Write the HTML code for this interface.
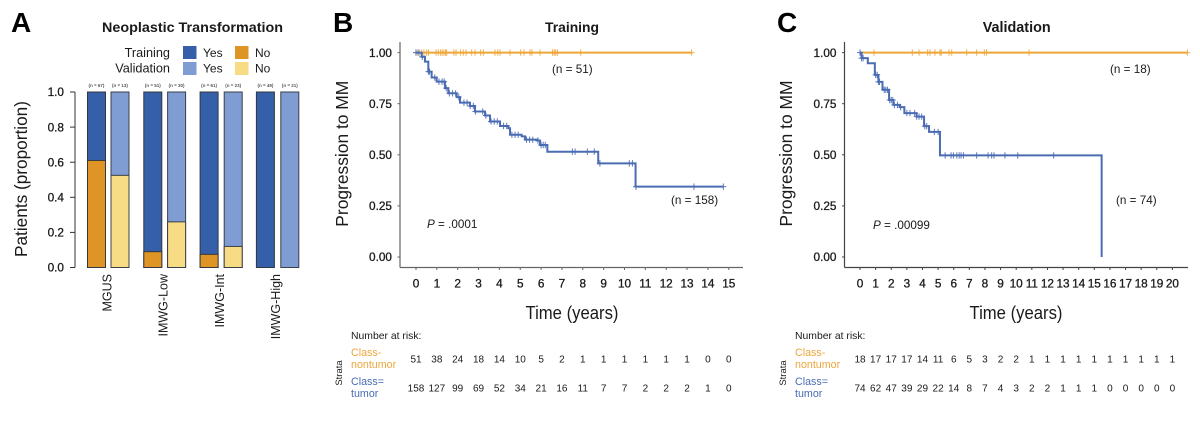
<!DOCTYPE html>
<html lang="en">
<head>
<meta charset="utf-8">
<title>Neoplastic Transformation and Progression to MM</title>
<style>
html,body{margin:0;padding:0;background:#fff;}
body{width:1200px;height:429px;overflow:hidden;}
svg{display:block;font-family:"Liberation Sans",sans-serif;}
text{fill:#1a1a1a;}
</style>
</head>
<body>
<svg id="figure" width="1200" height="429" viewBox="0 0 1200 429" xmlns="http://www.w3.org/2000/svg">
  <rect width="1200" height="429" fill="#fff"/>
  <g id="panelA">
    <text x="11" y="32" font-size="28" font-weight="bold" style="fill:#000">A</text>
    <text x="192.500" y="32" font-size="13.500" font-weight="bold" text-anchor="middle" textLength="181" lengthAdjust="spacingAndGlyphs">Neoplastic Transformation</text>
    <text x="170" y="57" font-size="12.700" text-anchor="end">Training</text>
    <text x="170" y="72.500" font-size="12.700" text-anchor="end">Validation</text>
    <rect x="183" y="46" width="13.500" height="13" fill="#3560a9"/>
    <text x="203" y="57" font-size="12">Yes</text>
    <rect x="235" y="46" width="13.500" height="13" fill="#df9526"/>
    <text x="255" y="57" font-size="12">No</text>
    <rect x="183" y="62" width="13.500" height="13" fill="#7f9dd3"/>
    <text x="203" y="72.500" font-size="12">Yes</text>
    <rect x="235" y="62" width="13.500" height="13" fill="#f8dc85"/>
    <text x="255" y="72.500" font-size="12">No</text>
    <text transform="translate(27,179) rotate(-90)" font-size="17.500" text-anchor="middle" textLength="156" lengthAdjust="spacingAndGlyphs">Patients (proportion)</text>
  </g>
  <g id="panelB">
    <text x="333" y="32" font-size="28" font-weight="bold" style="fill:#000">B</text>
    <text x="572" y="32" font-size="14" font-weight="bold" text-anchor="middle" textLength="54" lengthAdjust="spacingAndGlyphs">Training</text>
    <text transform="translate(348,153.700) rotate(-90)" font-size="17.500" text-anchor="middle" textLength="146" lengthAdjust="spacingAndGlyphs">Progression to MM</text>
    <text x="572" y="319" font-size="18" text-anchor="middle" textLength="93" lengthAdjust="spacingAndGlyphs">Time (years)</text>
    <text x="552" y="73" font-size="11.700">(n = 51)</text>
    <text x="671" y="204" font-size="11.700">(n = 158)</text>
    <text x="427" y="228" font-size="11.700"><tspan font-style="italic">P</tspan> = .0001</text>
    <text x="351" y="339" font-size="10.400">Number at risk:</text>
    <text font-size="10.700" style="fill:#eda63a"><tspan x="351" y="356">Class-</tspan><tspan x="351" y="368">nontumor</tspan></text>
    <text font-size="10.700" style="fill:#4a6cb3"><tspan x="351" y="385">Class=</tspan><tspan x="351" y="397">tumor</tspan></text>
    <text transform="translate(342,373) rotate(-90)" font-size="9.500" text-anchor="middle">Strata</text>
  </g>
  <g id="panelC">
    <text x="777" y="32" font-size="28" font-weight="bold" style="fill:#000">C</text>
    <text x="1016.700" y="32" font-size="14.500" font-weight="bold" text-anchor="middle" textLength="68" lengthAdjust="spacingAndGlyphs">Validation</text>
    <text transform="translate(792,153.500) rotate(-90)" font-size="17.500" text-anchor="middle" textLength="146" lengthAdjust="spacingAndGlyphs">Progression to MM</text>
    <text x="1016" y="319" font-size="18" text-anchor="middle" textLength="93" lengthAdjust="spacingAndGlyphs">Time (years)</text>
    <text x="1110" y="73" font-size="11.700">(n = 18)</text>
    <text x="1116" y="204" font-size="11.700">(n = 74)</text>
    <text x="873" y="229" font-size="11.700"><tspan font-style="italic">P</tspan> = .00099</text>
    <text x="795" y="339" font-size="10.400">Number at risk:</text>
    <text font-size="10.700" style="fill:#eda63a"><tspan x="795" y="356">Class-</tspan><tspan x="795" y="368">nontumor</tspan></text>
    <text font-size="10.700" style="fill:#4a6cb3"><tspan x="795" y="385">Class=</tspan><tspan x="795" y="397">tumor</tspan></text>
    <text transform="translate(786,373) rotate(-90)" font-size="9.500" text-anchor="middle">Strata</text>
  </g>
</svg>
<script>
const barCategories = ['MGUS', 'IMWG-Low', 'IMWG-Int', 'IMWG-High'];
const trainingNo = [0.61, 0.09, 0.075, 0];
const validationNo = [0.525, 0.26, 0.12, 0];
const trainingCounts = ['(n = 67)', '(n = 51)', '(n = 61)', '(n = 49)'];
const validationCounts = ['(n = 13)', '(n = 30)', '(n = 23)', '(n = 21)'];
const barTicks = [0, 0.2, 0.4, 0.6, 0.8, 1];

const survivalTicks = [0, 0.25, 0.5, 0.75, 1];

const trainTumorTimes = [0, 0.27, 0.43, 0.59, 0.75, 0.99, 1.39, 1.55, 1.95, 2.11, 2.59, 2.83, 3.31, 3.55, 4.03, 4.43, 4.51, 5.07, 5.23, 5.79, 5.95, 6.30, 8.74, 10.53];
const trainTumorSurv = [1, 0.98, 0.956, 0.907, 0.878, 0.858, 0.826, 0.801, 0.782, 0.755, 0.739, 0.712, 0.692, 0.663, 0.641, 0.630, 0.598, 0.590, 0.574, 0.570, 0.548, 0.515, 0.458, 0.344];
const trainTumorCensor = [0, 0.1, 0.3, 0.6, 0.65, 0.9, 1.1, 1.25, 1.35, 1.45, 1.6, 1.75, 1.9, 2.05, 2.3, 2.45, 2.6, 2.75, 2.85, 3.2, 3.35, 3.6, 3.75, 3.9, 4.2, 4.35, 4.6, 4.75, 4.9, 5.3, 5.45, 5.6, 5.85, 6.0, 6.1, 6.2, 7.5, 7.63, 8.22, 8.55, 8.82, 10.23, 10.38, 10.55, 13.33, 14.74];
const trainTumorEnd = 14.74;
const trainNonTimes = [0];
const trainNonSurv = [1];
const trainNonCensor = [0, 0.16, 0.27, 0.38, 0.51, 0.6, 0.96, 1.07, 1.18, 1.26, 1.34, 1.42, 1.47, 1.82, 1.92, 2.14, 2.27, 2.4, 2.67, 2.83, 3.1, 3.23, 3.79, 3.92, 4.03, 4.51, 5.02, 5.18, 5.47, 5.56, 5.95, 6.55, 6.63, 6.7, 6.78, 7.9, 13.22];
const trainNonEnd = 13.22;
const trainRiskNon = [51, 38, 24, 18, 14, 10, 5, 2, 1, 1, 1, 1, 1, 1, 0, 0];
const trainRiskTumor = [158, 127, 99, 69, 52, 34, 21, 16, 11, 7, 7, 2, 2, 2, 1, 0];

const validTumorTimes = [0, 0.1, 0.5, 0.95, 1.18, 1.44, 1.86, 2.14, 2.56, 2.84, 3.63, 4.1, 4.42, 5.12, 15.47];
const validTumorSurv = [1, 0.973, 0.948, 0.891, 0.857, 0.818, 0.768, 0.744, 0.733, 0.704, 0.687, 0.64, 0.612, 0.497, 0];
const validTumorCensor = [0, 0.1, 0.2, 1.0, 1.1, 1.18, 1.25, 1.55, 1.65, 1.76, 1.9, 2.0, 2.1, 2.2, 2.4, 2.6, 3.0, 3.2, 3.5, 3.63, 3.78, 3.95, 4.15, 4.27, 4.76, 5.0, 5.45, 5.83, 5.98, 6.2, 6.35, 6.47, 6.62, 7.47, 8.2, 8.43, 8.58, 9.28, 10.1, 12.4];
const validTumorEnd = 15.47;
const validNonTimes = [0];
const validNonSurv = [1];
const validNonCensor = [0.9, 3.35, 3.78, 4.33, 4.48, 4.8, 5.12, 5.2, 5.7, 5.87, 6.83, 7.47, 7.96, 8.1, 10.82, 20.96];
const validNonEnd = 20.96;
const validRiskNon = [18, 17, 17, 17, 14, 11, 6, 5, 3, 2, 2, 1, 1, 1, 1, 1, 1, 1, 1, 1, 1];
const validRiskTumor = [74, 62, 47, 39, 29, 22, 14, 8, 7, 4, 3, 2, 2, 1, 1, 1, 0, 0, 0, 0, 0];

const SVGNS = 'http://www.w3.org/2000/svg';
function mk(parent, tag, attrs, text) {
  const el = document.createElementNS(SVGNS, tag);
  for (const k in attrs) el.setAttribute(k, attrs[k]);
  if (text !== undefined) el.textContent = text;
  parent.appendChild(el);
  return el;
}
const tickText = {'font-size': 11.8, stroke: '#1a1a1a', 'stroke-width': 0.3};

/* Panel A */
(function () {
  const g = document.getElementById('panelA');
  const yA = v => 267.5 - 175.5 * v;
  const trainX = i => 87.5 + 56.3 * i;
  const validX = i => 111 + 56.6 * i;
  const barW = 18;

  const axis = mk(g, 'line', {x1: 75, x2: 75, y1: yA(1), y2: yA(0), stroke: '#333', 'stroke-width': 1});
  
  
  barTicks.forEach(v => {
    const t = mk(g, 'line', {x1: 70, x2: 75, y1: yA(v), y2: yA(v), stroke: '#333', 'stroke-width': 1});
    
    
    const l = mk(g, 'text', Object.assign({x: 64, y: yA(v) + 4.2, 'text-anchor': 'end'}, tickText), v.toFixed(1));
    
    
  });

  function bar(x, no, yesFill, noFill, edge, label) {
    const yes = mk(g, 'rect', {x: x, y: yA(1), width: barW, height: yA(0) - yA(1), fill: yesFill, stroke: edge, 'stroke-width': 1});
    
    
    if (no > 0) {
      const n = mk(g, 'rect', {x: x, y: yA(no), width: barW, height: yA(0) - yA(no), fill: noFill, stroke: edge, 'stroke-width': 1});
      
      
    }
    const c = mk(g, 'text', {x: x + barW / 2, y: 87, 'font-size': 4.5, 'font-weight': 'bold', 'text-anchor': 'middle', style: 'fill:#555'}, label);
    
    
  }
  barCategories.forEach((name, i) => {
    bar(trainX(i), trainingNo[i], '#3560a9', '#df9526', '#33373f', trainingCounts[i]);
    bar(validX(i), validationNo[i], '#7f9dd3', '#f8dc85', '#3a3f48', validationCounts[i]);
    const px = trainX(i) + 23.8;
    const lab = mk(g, 'text', {transform: 'translate(' + px + ',274) rotate(-90)', 'font-size': 12.500, 'text-anchor': 'end'}, name);
    
    
  });
})();

/* Panels B and C */
function survivalPanel(cfg) {
  const g = document.getElementById(cfg.id);
  const X = t => cfg.x0 + cfg.pxPerYear * t;
  const Y = s => 257 - 204.4 * s;

  const yAxis = mk(g, 'line', {x1: cfg.axisX, x2: cfg.axisX, y1: 42, y2: 267.500, stroke: cfg.axisColor, 'stroke-width': 1.2});
  
  
  const xAxis = mk(g, 'line', {x1: cfg.axisX, x2: cfg.axisEnd, y1: 267.500, y2: 267.500, stroke: cfg.axisColor, 'stroke-width': 1.2});
  
  

  survivalTicks.forEach(v => {
    const t = mk(g, 'line', {x1: cfg.axisX - 2.500, x2: cfg.axisX, y1: Y(v), y2: Y(v), stroke: cfg.axisColor, 'stroke-width': 1});
    
    
    const l = mk(g, 'text', Object.assign({x: cfg.axisX - 8, y: Y(v) + 4.2, 'text-anchor': 'end'}, tickText), v.toFixed(2));
    
    
  });

  cfg.riskNon.forEach((v, i) => {
    const t = mk(g, 'line', {x1: X(i), x2: X(i), y1: 267.500, y2: 270, stroke: cfg.axisColor, 'stroke-width': 1});
    
    
    const l = mk(g, 'text', Object.assign({x: X(i), y: 287.500, 'text-anchor': 'middle'}, tickText), String(i));
    
    
    const a = mk(g, 'text', {x: X(i), y: 362.500, 'font-size': 10, 'text-anchor': 'middle'}, String(v));
    
    
    const b = mk(g, 'text', {x: X(i), y: 391.500, 'font-size': 10, 'text-anchor': 'middle'}, String(cfg.riskTumor[i]));
    
    
  });

  function curve(times, surv, censor, end, color, name) {
    let d = 'M' + X(times[0]) + ' ' + Y(surv[0]);
    for (let i = 1; i < times.length; i++) {
      d += 'L' + X(times[i]) + ' ' + Y(surv[i - 1]) + 'L' + X(times[i]) + ' ' + Y(surv[i]);
    }
    d += 'L' + X(end) + ' ' + Y(surv[surv.length - 1]);
    const p = mk(g, 'path', {d: d, fill: 'none', stroke: color, 'stroke-width': 2});
    
    
    censor.forEach(t => {
      let s = surv[0];
      times.forEach((tt, i) => { if (tt <= t) s = surv[i]; });
      const cx = X(t);
      const cy = Y(s);
      const c = mk(g, 'path', {d: 'M' + cx + ' ' + (cy - 3.2) + 'V' + (cy + 3.2) + 'M' + (cx - 3) + ' ' + cy + 'H' + (cx + 3), fill: 'none', stroke: color, 'stroke-width': 1, opacity: 0.9});
      
      
    });
  }
  curve(cfg.nonT, cfg.nonS, cfg.nonC, cfg.nonE, '#eda63a', 'nontumor-curve');
  curve(cfg.tumT, cfg.tumS, cfg.tumC, cfg.tumE, '#4a6cb3', 'tumor-curve');
}

survivalPanel({
  id: 'panelB', axisX: 400, axisEnd: 743, x0: 416, pxPerYear: 20.85, axisColor: '#666',
  riskNon: trainRiskNon, riskTumor: trainRiskTumor,
  nonT: trainNonTimes, nonS: trainNonSurv, nonC: trainNonCensor, nonE: trainNonEnd,
  tumT: trainTumorTimes, tumS: trainTumorSurv, tumC: trainTumorCensor, tumE: trainTumorEnd
});
survivalPanel({
  id: 'panelC', axisX: 844.500, axisEnd: 1188, x0: 860, pxPerYear: 15.62, axisColor: '#444',
  riskNon: validRiskNon, riskTumor: validRiskTumor,
  nonT: validNonTimes, nonS: validNonSurv, nonC: validNonCensor, nonE: validNonEnd,
  tumT: validTumorTimes, tumS: validTumorSurv, tumC: validTumorCensor, tumE: validTumorEnd
});
</script>
</body>
</html>
